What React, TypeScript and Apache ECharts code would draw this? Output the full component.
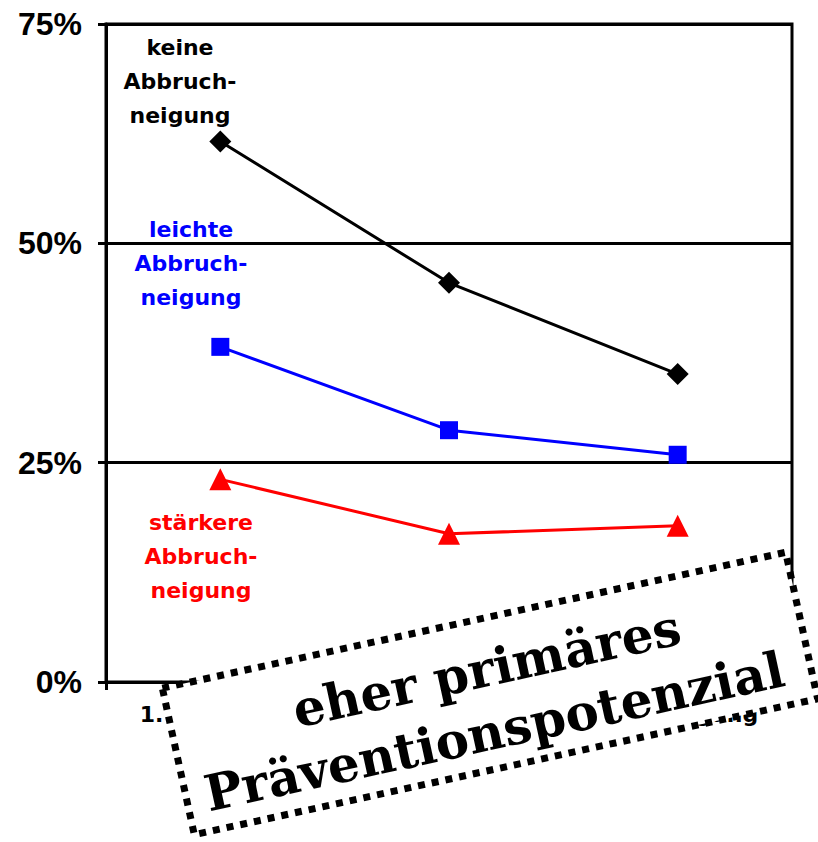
import React, { useEffect, useRef } from 'react';
import * as echarts from 'echarts';

const categories = ['1. Befragung', '2. Befragung', '3. Befragung'];
const keineAbbruch = [61.6, 45.5, 35.1];
const leichteAbbruch = [38.2, 28.7, 25.9];
const staerkereAbbruch = [23.1, 16.9, 17.8];
const yMin = 0;
const yMax = 75;
const yInterval = 25;

const labelKeine = 'keine\nAbbruch-\nneigung';
const labelLeichte = 'leichte\nAbbruch-\nneigung';
const labelStaerkere = 'stärkere\nAbbruch-\nneigung';
const boxLine1 = 'eher primäres';
const boxLine2 = 'Präventionspotenzial';

export default function App() {
  const ref = useRef<HTMLDivElement>(null);
  useEffect(() => {
    if (!ref.current) return;
    const chart = echarts.init(ref.current, null, { renderer: 'svg' });
    const annFont = 'bold 22px "DejaVu Sans"';
    const boxFont = 'bold 50px "DejaVu Serif"';
    const boxRot = (12.3 * Math.PI) / 180;
    chart.setOption({
      animation: false,
      backgroundColor: '#fff',
      grid: {
        left: 106,
        right: 26,
        top: 24,
        bottom: 160,
        show: true,
        borderColor: '#000',
        borderWidth: 3,
        backgroundColor: 'transparent',
      },
      xAxis: {
        type: 'category',
        data: categories,
        boundaryGap: true,
        axisLine: { show: true, lineStyle: { color: '#000', width: 3 } },
        axisTick: { show: true, length: 8, lineStyle: { color: '#000', width: 3 } },
        axisLabel: {
          color: '#000',
          fontFamily: 'DejaVu Sans',
          fontWeight: 'bold',
          fontSize: 22,
          margin: 21,
        },
        splitLine: { show: false },
      },
      yAxis: {
        type: 'value',
        min: yMin,
        max: yMax,
        interval: yInterval,
        axisLine: { show: true, lineStyle: { color: '#000', width: 3 } },
        axisTick: { show: true, length: 8, lineStyle: { color: '#000', width: 3 } },
        axisLabel: {
          formatter: '{value}%',
          color: '#000',
          fontFamily: 'Liberation Sans',
          fontWeight: 'bold',
          fontSize: 32,
          margin: 24,
        },
        splitLine: { show: true, lineStyle: { color: '#000', width: 3 } },
      },
      series: [
        {
          name: 'keine Abbruchneigung',
          type: 'line',
          data: keineAbbruch,
          symbol: 'diamond',
          symbolSize: 22,
          lineStyle: { color: '#000', width: 3 },
          itemStyle: { color: '#000' },
          z: 5,
        },
        {
          name: 'leichte Abbruchneigung',
          type: 'line',
          data: leichteAbbruch,
          symbol: 'rect',
          symbolSize: 18,
          lineStyle: { color: '#0000ff', width: 3 },
          itemStyle: { color: '#0000ff' },
          z: 5,
        },
        {
          name: 'stärkere Abbruchneigung',
          type: 'line',
          data: staerkereAbbruch,
          symbol: 'triangle',
          symbolSize: 22,
          lineStyle: { color: '#ff0000', width: 3 },
          itemStyle: { color: '#ff0000' },
          z: 5,
        },
      ],
      graphic: [
        {
          type: 'text',
          x: 180,
          y: 81,
          z: 10,
          style: { text: labelKeine, font: annFont, fill: '#000', align: 'center', verticalAlign: 'middle', lineHeight: 34 },
        },
        {
          type: 'text',
          x: 191,
          y: 263,
          z: 10,
          style: { text: labelLeichte, font: annFont, fill: '#0000ff', align: 'center', verticalAlign: 'middle', lineHeight: 34 },
        },
        {
          type: 'text',
          x: 201,
          y: 556,
          z: 10,
          style: { text: labelStaerkere, font: annFont, fill: '#ff0000', align: 'center', verticalAlign: 'middle', lineHeight: 34 },
        },
        {
          type: 'group',
          x: 490,
          y: 693.5,
          rotation: boxRot,
          z: 100,
          children: [
            {
              type: 'rect',
              z: 100,
              shape: { x: -319, y: -75, width: 638, height: 150 },
              style: { fill: '#fff', stroke: '#000', lineWidth: 7, lineDash: [7, 7] },
            },
            {
              type: 'text',
              z: 101,
              x: 2,
              y: -25,
              style: { text: boxLine1, font: boxFont, fill: '#000', align: 'center', verticalAlign: 'middle' },
            },
            {
              type: 'text',
              z: 101,
              x: -4,
              y: 38,
              style: { text: boxLine2, font: boxFont, fill: '#000', align: 'center', verticalAlign: 'middle' },
            },
          ],
        },
      ],
    });
    return () => chart.dispose();
  }, []);
  return <div ref={ref} style={{ width: 818, height: 842, position: 'absolute', left: 0, top: 0 }} />;
}
